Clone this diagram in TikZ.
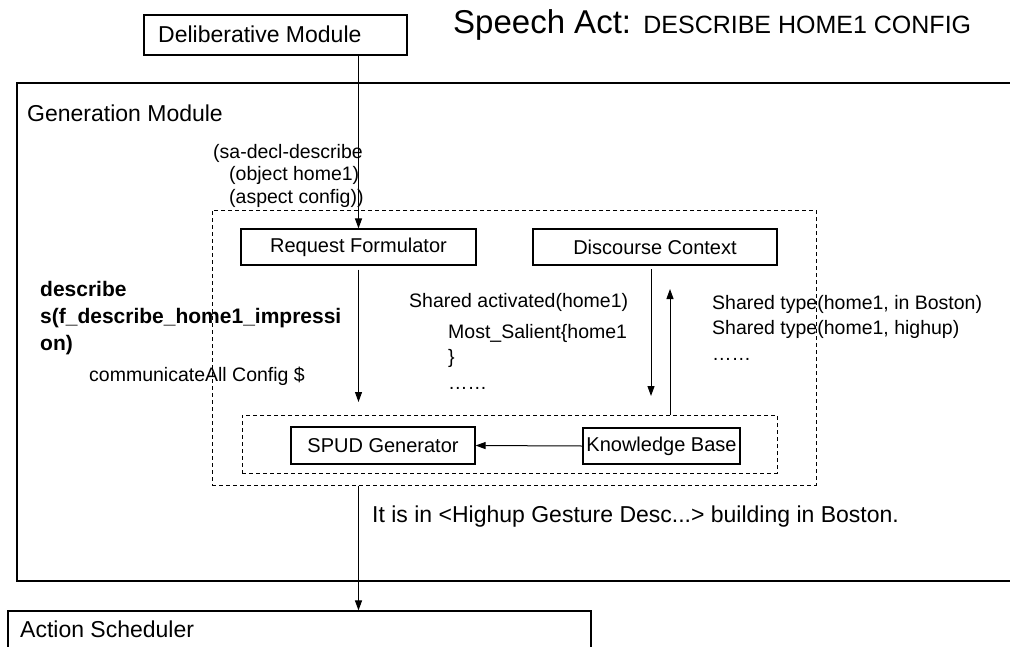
\documentclass[tikz,border=0pt]{standalone}
\usepackage{fontspec}
\setmainfont{Liberation Sans}
\usetikzlibrary{arrows.meta}
\begin{document}
\begin{tikzpicture}[x=1pt,y=-1pt,
  box/.style={draw,line width=1.1pt,inner sep=0pt},
  dbox/.style={draw,line width=1pt,dash pattern=on 4pt off 3pt,inner sep=0pt},
  lab/.style={font=\fontsize{20}{22}\selectfont,inner sep=0pt},
  big/.style={font=\fontsize{23}{26}\selectfont,inner sep=0pt,anchor=base west},
  txt/.style={font=\fontsize{19.5}{24.5}\selectfont,inner sep=0pt,anchor=west,align=left},
  conn/.style={line width=1pt},
  arr/.style={line width=1pt,-{Triangle[length=10pt,width=7pt]}}]
\useasboundingbox (0,0) rectangle (1010,646);
% boxes
\node[box,minimum width=263pt,minimum height=40pt] (delib) at (275.5,35) {};
\node[big] (delibt) at (158,42) {Deliberative Module};
\node[inner sep=0pt,anchor=base west,font=\fontsize{33}{36}\selectfont] (sa) at (453,33)
  {Speech Act: {\fontsize{25}{26}\selectfont DESCRIBE HOME1 CONFIG}};
\node[box,minimum width=998pt,minimum height=498pt] (gen) at (516,332) {};
\node[big] (gent) at (27,121) {Generation Module};
\node[dbox,minimum width=604pt,minimum height=275pt] (outer) at (514,347.5) {};
\node[dbox,minimum width=535pt,minimum height=58pt] (inner) at (509.5,444) {};
\node[box,minimum width=235pt,minimum height=36pt,lab] (rf) at (358.5,247) {Request Formulator};
\node[box,minimum width=244pt,minimum height=36pt,lab] (dc) at (655,247) {Discourse Context};
\node[box,minimum width=184pt,minimum height=37pt,lab] (spud) at (383,445.5) {SPUD Generator};
\node[box,minimum width=157pt,minimum height=36pt,lab] (kb) at (661.5,446) {Knowledge Base};
\node[box,minimum width=583pt,minimum height=50pt] (act) at (299.5,636) {};
\node[big] (actt) at (20,637) {Action Scheduler};
\node[big] (out) at (372,522) {It is in <Highup Gesture Desc...> building in Boston.};
% texts
\node[txt] (sa1) at (213,153) {(sa-decl-describe};
\node[txt] (sa2) at (229,175) {(object home1)};
\node[txt] (sa3) at (229,198) {(aspect config))};
\node[inner sep=0pt,anchor=north west,align=left,font=\bfseries\fontsize{21}{27}\selectfont] (desc) at (40,281)
  {describe\\s(f\_describe\_home1\_impressi\\on)};
\node[txt] (comm) at (89,376) {communicateAll Config \$};
\node[txt] (act1) at (409,302) {Shared activated(home1)};
\node[txt,anchor=north west,font=\fontsize{19.5}{25.5}\selectfont] (most) at (448,324) {Most\_Salient\{home1\\\}\\……};
\node[txt,anchor=north west,font=\fontsize{19.5}{25.5}\selectfont] (shty) at (712,295) {Shared type(home1, in Boston)\\Shared type(home1, highup)\\……};
% connectors
\coordinate (rfend) at (358.5,402);
\coordinate (dcs) at (651,265);
\coordinate (dcend) at (651,396);
\coordinate (ups) at (670,415);
\coordinate (upend) at (670,289);
\draw[arr] (rf.north |- delib.south) -- (rf.north);
\draw[arr,shorten <=4pt] (rf.south) -- (rfend);
\draw[arr,shorten <=4pt] (dcs) -- (dcend);
\draw[arr] (ups) -- (upend);
\draw[arr] (kb.west) -- (spud.east);
\draw[arr] (outer.south -| rf.south) -- (act.north -| rf.south);
\end{tikzpicture}
\end{document}
